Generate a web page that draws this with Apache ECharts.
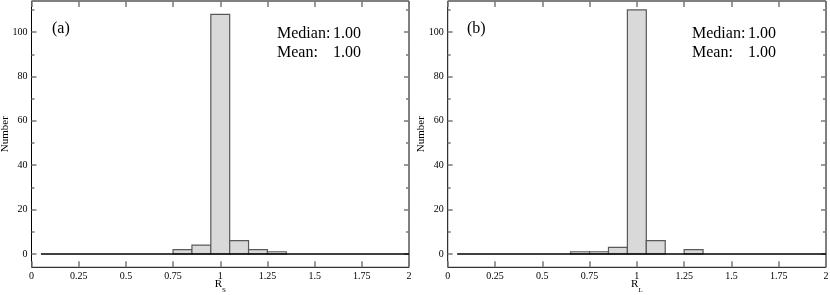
<!DOCTYPE html>
<html><head><meta charset="utf-8">
<script src="https://cdn.jsdelivr.net/npm/echarts@6/dist/echarts.min.js"></script>
<style>html,body{margin:0;padding:0;background:#fff}#c{width:830px;height:295px}</style>
</head><body><div id="c"></div>
<script>
// ---- data ----
const binCentersA = [0.8, 0.9, 1.0, 1.1, 1.2, 1.3];
const countsA     = [2, 4, 108, 6, 2, 1];
const binCentersB = [0.7, 0.8, 0.9, 1.0, 1.1, 1.2, 1.3];
const countsB     = [1, 1, 3, 110, 6, 0, 2];
const binWidth = 0.1;
const baselineRange = [0.05, 2.0];
const xTickValues = [0, 0.25, 0.5, 0.75, 1, 1.25, 1.5, 1.75, 2];
const yMajorTicks = [0, 20, 40, 60, 80, 100];
const yMinorTicks = [10, 30, 50, 70, 90, 110];
const panelLabels = ['(a)', '(b)'];
const xNames = [['R', 'S'], ['R', 'L']];
const yName = 'Number';
const medians = ['1.00', '1.00'];
const means = ['1.00', '1.00'];

const FONT = 'Liberation Serif';
const tickColor = '#7a7a7a';

const grids = [
  {left: 31.5, right: 421, top: 1, bottom: 27.7},
  {left: 447.7, right: 4, top: 1, bottom: 27.7}
];

const option = {
  animation: false,
  backgroundColor: '#fff',
  grid: grids.map(g => Object.assign({show: true, borderColor: '#000', borderWidth: 1, backgroundColor: 'transparent', containLabel: false, outerBoundsMode: 'none'}, g)),
  xAxis: [], yAxis: [], series: [], graphic: []
};

[0, 1].forEach(i => {
  option.xAxis.push({
    type: 'value', gridIndex: i, position: 'bottom', min: 0, max: 2, interval: 0.25,
    axisLine: {show: false, onZero: false}, splitLine: {show: false},
    axisTick: {inside: true, length: 6, lineStyle: {color: tickColor, width: 1.5}},
    axisLabel: {fontFamily: FONT, fontSize: 10, color: '#000', margin: 4, showMinLabel: true, showMaxLabel: true},
    name: '{a|' + xNames[i][0] + '}{b|' + xNames[i][1] + '}',
    nameLocation: 'middle', nameGap: 11, nameMoveOverlap: false,
    nameTextStyle: {fontFamily: FONT, verticalAlign: 'top', rich: {
      a: {fontFamily: FONT, fontSize: 11, color: '#000', lineHeight: 12, padding: [0, 0, 6, 0], verticalAlign: 'top'},
      b: {fontFamily: FONT, fontSize: 7, color: '#000', lineHeight: 8, padding: [8, 0, 0, 0], verticalAlign: 'top'}
    }}
  });
  option.xAxis.push({
    type: 'value', gridIndex: i, position: 'top', min: 0, max: 2, interval: 0.25,
    axisLine: {show: false, onZero: false}, splitLine: {show: false}, axisLabel: {show: false},
    axisTick: {inside: true, length: 6, lineStyle: {color: tickColor, width: 1.5}}
  });
  option.yAxis.push({
    type: 'value', gridIndex: i, position: 'left', min: -6, max: 114,
    axisLine: {show: false, onZero: false}, splitLine: {show: false},
    axisTick: {inside: true, length: 5, customValues: yMajorTicks, lineStyle: {color: tickColor, width: 1.5}},
    axisLabel: {fontFamily: FONT, fontSize: 10, color: '#000', margin: 4, customValues: yMajorTicks},
    name: yName, nameLocation: 'middle', nameRotate: 90, nameGap: 21, nameMoveOverlap: false,
    nameTextStyle: {fontFamily: FONT, fontSize: 11, color: '#000'}
  });
  option.yAxis.push({
    type: 'value', gridIndex: i, position: 'right', min: -6, max: 114,
    axisLine: {show: false, onZero: false}, splitLine: {show: false}, axisLabel: {show: false},
    axisTick: {inside: true, length: 5, customValues: yMajorTicks, lineStyle: {color: tickColor, width: 1.5}}
  });
  ['left', 'right'].forEach(pos => {
    option.yAxis.push({
      type: 'value', gridIndex: i, position: pos, min: -6, max: 114,
      axisLine: {show: false, onZero: false}, splitLine: {show: false}, axisLabel: {show: false},
      axisTick: {inside: true, length: 3, customValues: yMinorTicks, lineStyle: {color: tickColor, width: 1.5}}
    });
  });

  const centers = i === 0 ? binCentersA : binCentersB;
  const counts = i === 0 ? countsA : countsB;
  const xIdx = i * 2, yIdx = i * 4;

  option.series.push({
    type: 'line', xAxisIndex: xIdx, yAxisIndex: yIdx, symbol: 'none', z: 3,
    data: [[baselineRange[0], 0], [baselineRange[1], 0]],
    lineStyle: {color: '#000', width: 1.5}
  });
  option.series.push({
    type: 'custom', xAxisIndex: xIdx, yAxisIndex: yIdx, z: 2,
    data: centers.map((c, k) => [c, counts[k]]).filter(d => d[1] > 0),
    renderItem: function (params, api) {
      const c = api.value(0), v = api.value(1);
      const p1 = api.coord([c - binWidth / 2, v]);
      const p2 = api.coord([c + binWidth / 2, 0]);
      return {
        type: 'rect',
        shape: {x: p1[0], y: p1[1], width: p2[0] - p1[0], height: p2[1] - p1[1]},
        style: {fill: '#d9d9d9', stroke: '#5a5a5a', lineWidth: 1.2}
      };
    }
  });

  const ox = i === 0 ? 0 : 415;
  const f = '16px "' + FONT + '"';
  option.graphic.push(
    {type: 'text', x: ox + 52, y: 29, style: {text: panelLabels[i], font: f, fill: '#000', verticalAlign: 'middle', align: 'left'}},
    {type: 'text', x: ox + 277, y: 34, style: {text: 'Median:', font: f, fill: '#000', verticalAlign: 'middle', align: 'left'}},
    {type: 'text', x: ox + 361, y: 34, style: {text: medians[i], font: f, fill: '#000', verticalAlign: 'middle', align: 'right'}},
    {type: 'text', x: ox + 277, y: 53, style: {text: 'Mean:', font: f, fill: '#000', verticalAlign: 'middle', align: 'left'}},
    {type: 'text', x: ox + 361, y: 53, style: {text: means[i], font: f, fill: '#000', verticalAlign: 'middle', align: 'right'}}
  );
});

const chart = echarts.init(document.getElementById('c'), null, {renderer: 'canvas'});
chart.setOption(option);
</script>
</body></html>
